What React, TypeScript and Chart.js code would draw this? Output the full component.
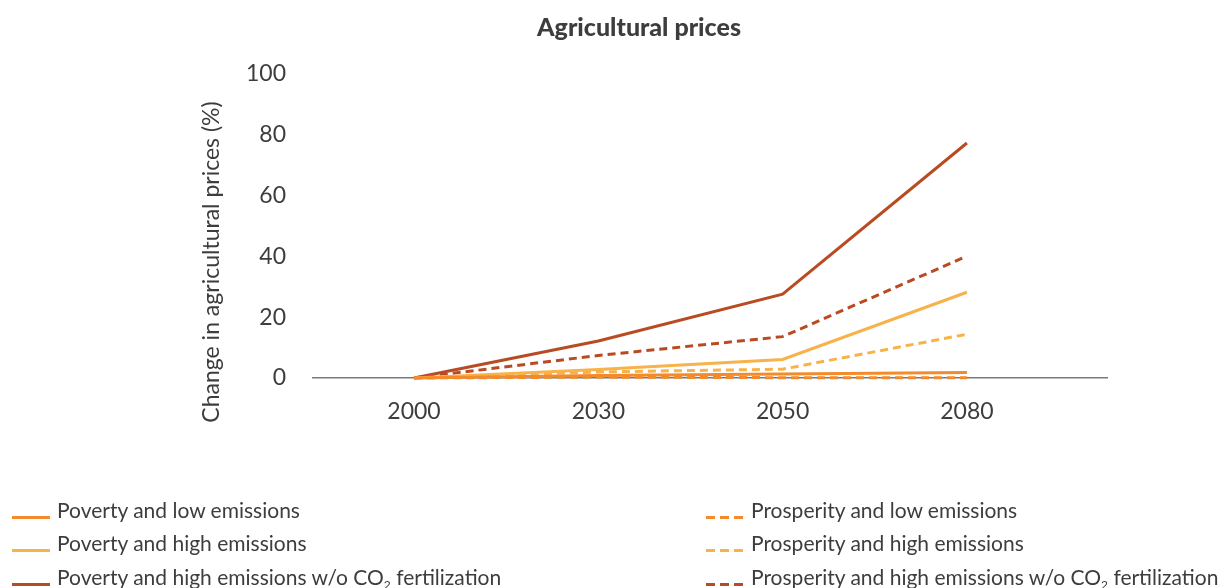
import React, { useEffect, useRef } from 'react';
import { Chart, registerables } from 'chart.js';

Chart.register(...registerables);

const categories = ['2000', '2030', '2050', '2080'];
const yTicks = [0, 20, 40, 60, 80, 100];
const yAxisTitle = 'Change in agricultural prices (%)';
const chartTitle = 'Agricultural prices';

const povertyLow = [0, 0.8, 1.3, 1.8];
const povertyHigh = [0, 2.8, 6.1, 28.2];
const povertyHighNoCO2 = [0, 12.2, 27.6, 77.3];
const prosperityLow = [0, 0.3, 0.1, 0.1];
const prosperityHigh = [0, 2.0, 2.9, 14.4];
const prosperityHighNoCO2 = [0, 7.4, 13.6, 40.1];

const ORANGE = '#F38A2B';
const YELLOW = '#F7B34A';
const DARK = '#B84B22';
const TEXT = '#3d3d3d';
const FONT = 'Lato, "Noto Sans", sans-serif';

type Series = { label: string; data: number[]; color: string; dashed: boolean };

const series: Series[] = [
  { label: 'Poverty and low emissions', data: povertyLow, color: ORANGE, dashed: false },
  { label: 'Poverty and high emissions', data: povertyHigh, color: YELLOW, dashed: false },
  { label: 'Poverty and high emissions w/o CO2 fertilization', data: povertyHighNoCO2, color: DARK, dashed: false },
  { label: 'Prosperity and low emissions', data: prosperityLow, color: ORANGE, dashed: true },
  { label: 'Prosperity and high emissions', data: prosperityHigh, color: YELLOW, dashed: true },
  { label: 'Prosperity and high emissions w/o CO2 fertilization', data: prosperityHighNoCO2, color: DARK, dashed: true },
];

function LegendLabel({ text }: { text: string }) {
  const parts = text.split('CO2');
  if (parts.length === 1) return <span>{text}</span>;
  return (
    <span>
      {parts[0]}CO<sub style={{ fontSize: '12px', verticalAlign: '-4px', lineHeight: 0 }}>2</sub>
      {parts[1]}
    </span>
  );
}

function LegendLine({ color, dashed }: { color: string; dashed: boolean }) {
  if (!dashed) {
    return <div style={{ position: 'absolute', left: 0, top: 0, width: 38, height: 3, background: color }} />;
  }
  return (
    <>
      {[0, 14, 28].map((x) => (
        <div key={x} style={{ position: 'absolute', left: x, top: 0, width: 9, height: 3, background: color }} />
      ))}
    </>
  );
}

const yTitlePlugin = {
  id: 'yTitlePlugin',
  afterDraw(chart: any) {
    const { ctx } = chart;
    const area = chart.chartArea;
    ctx.save();
    ctx.translate(212, (area.top + area.bottom) / 2 + 36);
    ctx.rotate(-Math.PI / 2);
    ctx.font = `23px ${FONT}`;
    ctx.fillStyle = TEXT;
    ctx.textAlign = 'center';
    ctx.textBaseline = 'middle';
    ctx.fillText(yAxisTitle, 0, 0);
    ctx.restore();
  },
};

export default function App() {
  const canvasRef = useRef<HTMLCanvasElement | null>(null);

  useEffect(() => {
    if (!canvasRef.current) return;
    const chart = new Chart(canvasRef.current, {
      type: 'line',
      data: {
        datasets: series.map((s) => ({
          label: s.label,
          data: s.data.map((v, i) => ({ x: i, y: v })),
          borderColor: s.color,
          backgroundColor: s.color,
          borderWidth: 3,
          borderDash: s.dashed ? [8, 5] : [],
          pointRadius: 0,
          tension: 0,
          clip: false as any,
        })),
      },
      plugins: [yTitlePlugin],
      options: {
        responsive: false,
        animation: false,
        layout: { padding: { left: 171, right: 120, top: 0, bottom: 0 } },
        plugins: {
          legend: { display: false },
          tooltip: { enabled: false },
          title: {
            display: true,
            text: chartTitle,
            color: TEXT,
            font: { family: FONT, size: 25, weight: '900' },
            padding: { top: 13, bottom: 31 },
          },
        },
        scales: {
          x: {
            type: 'linear',
            min: -0.548,
            max: 3.76,
            afterBuildTicks: (scale: any) => {
              scale.ticks = categories.map((_, i) => ({ value: i }));
            },
            afterFit: (scale: any) => {
              scale.height = 210;
            },
            grid: { display: false, drawTicks: false },
            border: { display: true, color: '#7a7a7a', width: 1.5 },
            ticks: {
              color: TEXT,
              font: { family: FONT, size: 23 },
              padding: 20,
              maxRotation: 0,
              callback: (v: any) => categories[Number(v)] ?? '',
            },
          },
          y: {
            min: 0,
            max: 100,
            afterBuildTicks: (scale: any) => {
              scale.ticks = yTicks.map((v) => ({ value: v }));
            },
            afterFit: (scale: any) => {
              scale.width = 142;
            },
            grid: { display: false, drawTicks: false },
            border: { display: false },
            ticks: {
              color: TEXT,
              font: { family: FONT, size: 23 },
              padding: 27,
            },
          },
        },
      } as any,
    });
    return () => chart.destroy();
  }, []);

  const rowsY = [510, 543, 577];

  return (
    <div style={{ position: 'fixed', left: 0, top: 0, width: 1227, height: 588, background: '#fff', overflow: 'hidden' }}>
      <canvas ref={canvasRef} width={1227} height={588} style={{ width: 1227, height: 588, display: 'block' }} />
      {series.map((s, i) => {
        const col = s.dashed ? 1 : 0;
        const row = i % 3;
        const lineLeft = col === 0 ? 12 : 706;
        const textLeft = col === 0 ? 57 : 751;
        const cy = rowsY[row];
        return (
          <React.Fragment key={s.label}>
            <div style={{ position: 'absolute', left: lineLeft, top: cy + 6, width: 38, height: 3 }}>
              <LegendLine color={s.color} dashed={s.dashed} />
            </div>
            <div
              style={{
                position: 'absolute',
                left: textLeft,
                top: cy - 13,
                height: 26,
                lineHeight: '26px',
                fontFamily: FONT,
                fontSize: 21,
                color: TEXT,
                whiteSpace: 'nowrap',
              }}
            >
              <LegendLabel text={s.label} />
            </div>
          </React.Fragment>
        );
      })}
    </div>
  );
}
